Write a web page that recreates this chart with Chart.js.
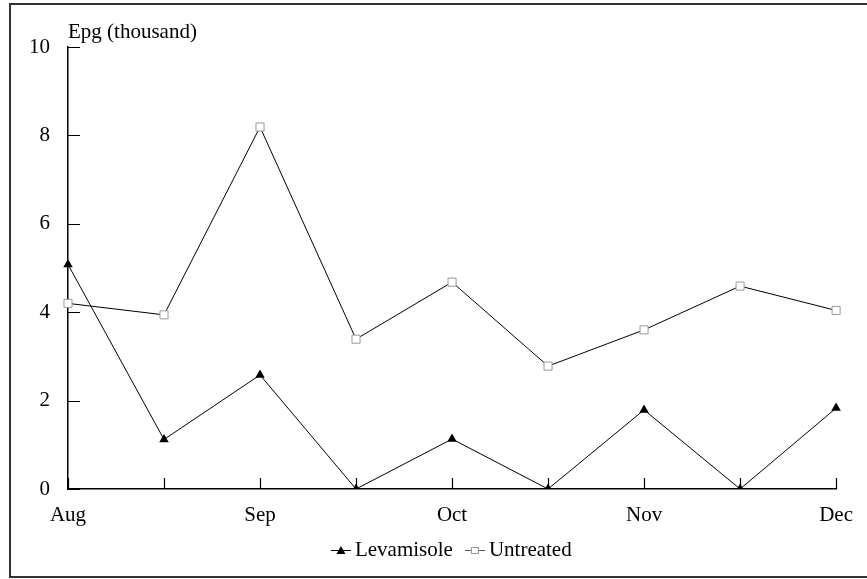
<!DOCTYPE html>
<html>
<head>
<meta charset="utf-8">
<script src="https://cdn.jsdelivr.net/npm/chart.js@4.4.1/dist/chart.umd.min.js"></script>
<style>
  html, body { margin: 0; padding: 0; background: #fff; }
  #wrap { position: relative; width: 867px; height: 579px; }
</style>
</head>
<body>
<div id="wrap"><canvas id="epgChart"></canvas></div>
<script>
var months = ['Aug', '', 'Sep', '', 'Oct', '', 'Nov', '', 'Dec'];
var levamisole = [5.08, 1.12, 2.58, 0, 1.13, 0, 1.79, 0, 1.83];
var untreated = [4.2, 3.94, 8.19, 3.39, 4.68, 2.78, 3.6, 4.59, 4.04];
var yMin = 0, yMax = 10, yStep = 2;
var yTitle = 'Epg (thousand)';

var serif = "'Liberation Serif', 'Times New Roman', serif";
Chart.defaults.font.family = serif;
Chart.defaults.font.size = 21;
Chart.defaults.color = '#000';

// legend icon: short line with the marker on it (line sits in the right 20px)
function legendIcon(kind) {
    var c = document.createElement('canvas');
    c.width = 33; c.height = 12;
    var g = c.getContext('2d');
    g.strokeStyle = kind === 'square' ? '#555' : '#000';
    g.lineWidth = 1;
    g.beginPath(); g.moveTo(13, 6.5); g.lineTo(33, 6.5); g.stroke();
    if (kind === 'triangle') {
        g.fillStyle = '#000';
        g.beginPath(); g.moveTo(23, 2); g.lineTo(27.5, 10); g.lineTo(18.5, 10); g.closePath(); g.fill();
    } else {
        g.fillStyle = '#fff'; g.strokeStyle = '#999';
        g.fillRect(19.5, 3.5, 7, 6); g.strokeRect(19.5, 3.5, 7, 6);
    }
    return c;
}
var icons = [legendIcon('triangle'), legendIcon('square')];

var frameAndTicks = {
    id: 'frameAndTicks',
    afterLayout: function (chart) {
        if (chart.legend) { chart.legend.left -= 4; chart.legend.right -= 4; }
    },
    afterDraw: function (chart) {
        var ctx = chart.ctx, x = chart.scales.x, y = chart.scales.y;
        var area = chart.chartArea;
        ctx.save();
        ctx.strokeStyle = '#000';
        ctx.lineWidth = 1.2;
        ctx.beginPath();
        x.ticks.forEach(function (t, i) {
            var px = Math.round(x.getPixelForTick(i)) + 0.5;
            ctx.moveTo(px, area.bottom); ctx.lineTo(px, area.bottom - 11);
        });
        y.ticks.forEach(function (t, i) {
            var py = Math.round(y.getPixelForTick(i)) + 0.5;
            ctx.moveTo(area.left, py); ctx.lineTo(area.left + 12, py);
        });
        ctx.stroke();
        // axis title
        ctx.fillStyle = '#000';
        ctx.font = '21px ' + serif;
        ctx.textAlign = 'left';
        ctx.textBaseline = 'alphabetic';
        ctx.fillText(yTitle, area.left, 38);
        // outer frame
        ctx.strokeStyle = '#333';
        ctx.lineWidth = 2;
        ctx.strokeRect(10, 4, 880, 573);
        ctx.restore();
    }
};

new Chart(document.getElementById('epgChart').getContext('2d'), {
    type: 'line',
    data: {
        labels: months,
        datasets: [
            {
                label: 'Levamisole',
                data: levamisole,
                borderColor: '#000',
                backgroundColor: '#000',
                borderWidth: 1,
                tension: 0,
                pointStyle: 'triangle',
                pointRadius: 5.5,
                pointBorderWidth: 0,
                pointBackgroundColor: '#000',
            },
            {
                label: 'Untreated',
                data: untreated,
                borderColor: '#000',
                backgroundColor: '#fff',
                borderWidth: 1,
                tension: 0,
                pointStyle: 'rect',
                pointRadius: 5.7,
                pointBorderWidth: 1,
                pointBorderColor: '#999',
                pointBackgroundColor: '#fff',
            },
        ],
    },
    options: {
        responsive: true,
        maintainAspectRatio: false,
        animation: false,
        layout: { padding: { top: 47, right: 24, bottom: 8.5, left: 0 } },
        plugins: {
            tooltip: { enabled: false },
            legend: {
                position: 'bottom',
                fullSize: false,
                labels: {
                    usePointStyle: true,
                    pointStyleWidth: 20,
                    padding: 5.5,
                    font: { size: 21, family: serif },
                    generateLabels: function (chart) {
                        var items = Chart.defaults.plugins.legend.labels.generateLabels(chart);
                        items.forEach(function (it, i) { it.pointStyle = icons[i]; });
                        return items;
                    },
                },
            },
        },
        scales: {
            x: {
                offset: false,
                grid: { display: true, drawOnChartArea: false, drawTicks: false },
                border: { display: true, color: '#000', width: 1.5 },
                ticks: { autoSkip: false, maxRotation: 0, padding: 14 },
                afterFit: function (s) { s.height = 45; },
            },
            y: {
                min: yMin,
                max: yMax,
                grid: { display: true, drawOnChartArea: false, drawTicks: false },
                border: { display: true, color: '#000', width: 1.5 },
                ticks: { stepSize: yStep, padding: 18 },
                afterFit: function (s) { s.width = 68; },
            },
        },
    },
    plugins: [frameAndTicks],
});
</script>
</body>
</html>
